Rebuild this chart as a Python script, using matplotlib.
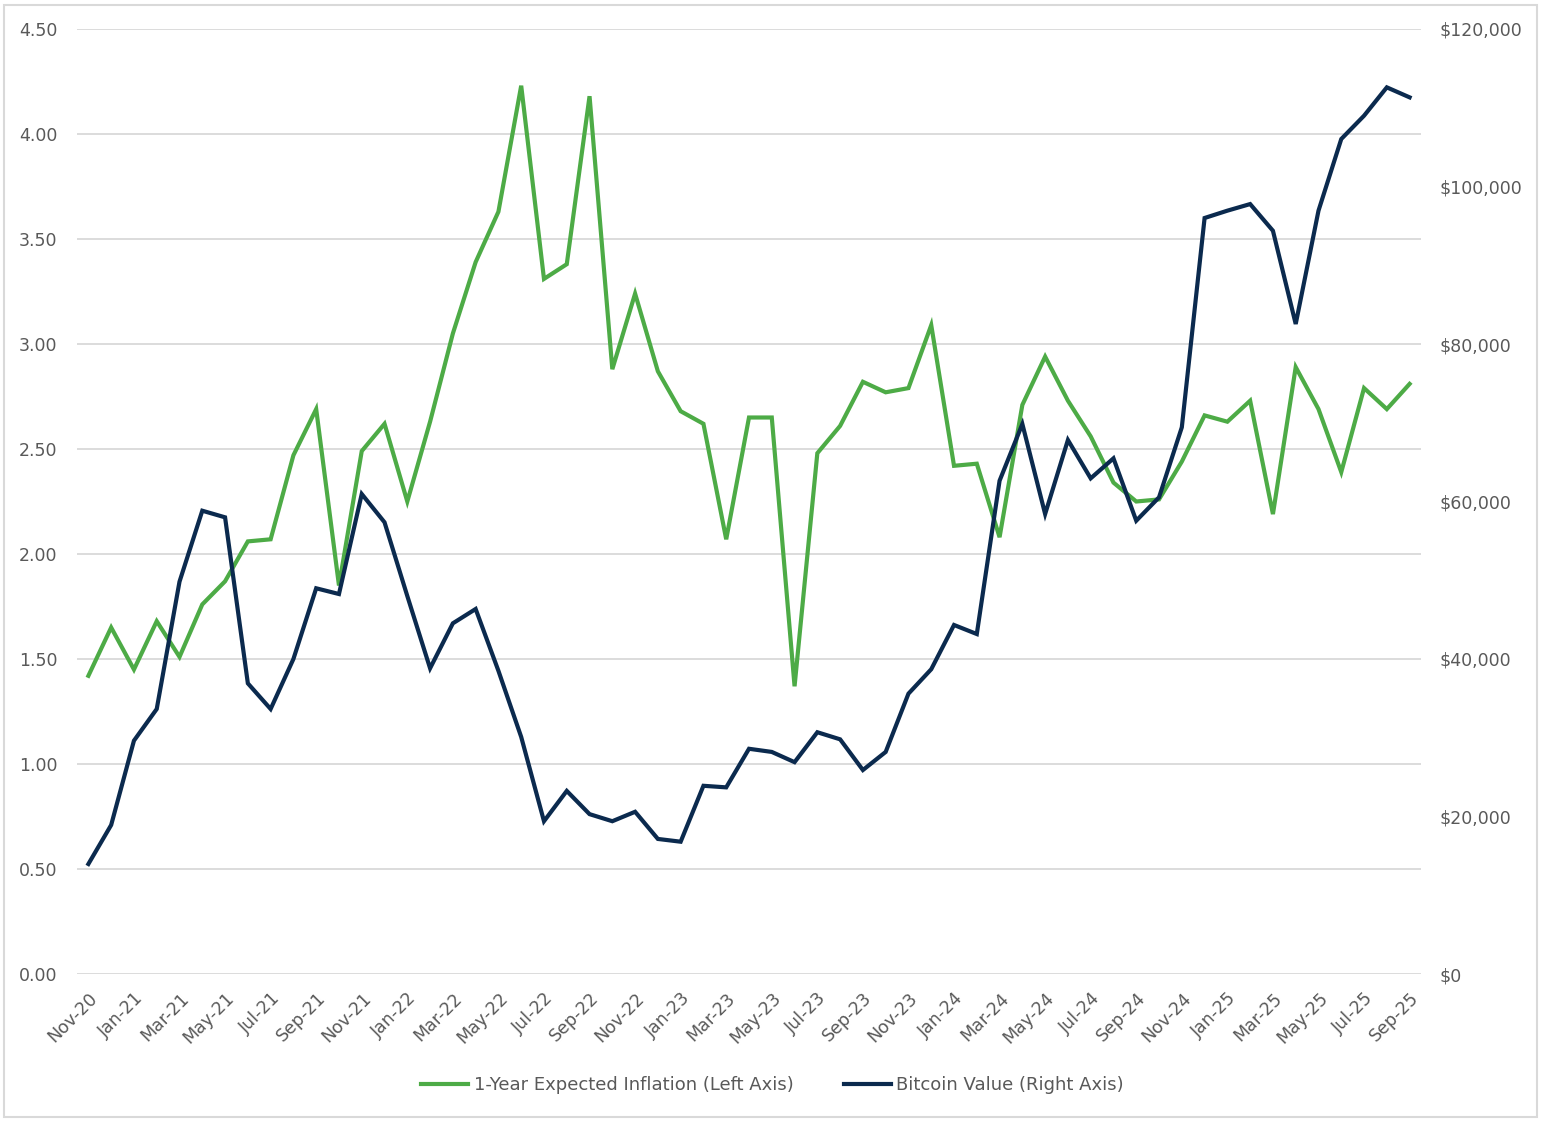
import matplotlib
matplotlib.use("Agg")
import matplotlib.pyplot as plt
from matplotlib.ticker import FuncFormatter, MultipleLocator
from matplotlib.patches import Rectangle

months = ["Nov-20", "Dec-20",
          "Jan-21", "Feb-21", "Mar-21", "Apr-21", "May-21", "Jun-21",
          "Jul-21", "Aug-21", "Sep-21", "Oct-21", "Nov-21", "Dec-21",
          "Jan-22", "Feb-22", "Mar-22", "Apr-22", "May-22", "Jun-22",
          "Jul-22", "Aug-22", "Sep-22", "Oct-22", "Nov-22", "Dec-22",
          "Jan-23", "Feb-23", "Mar-23", "Apr-23", "May-23", "Jun-23",
          "Jul-23", "Aug-23", "Sep-23", "Oct-23", "Nov-23", "Dec-23",
          "Jan-24", "Feb-24", "Mar-24", "Apr-24", "May-24", "Jun-24",
          "Jul-24", "Aug-24", "Sep-24", "Oct-24", "Nov-24", "Dec-24",
          "Jan-25", "Feb-25", "Mar-25", "Apr-25", "May-25", "Jun-25",
          "Jul-25", "Aug-25", "Sep-25"]

inflation = [1.42, 1.65,
             1.45, 1.68, 1.51, 1.76, 1.87, 2.06,
             2.07, 2.47, 2.69, 1.85, 2.49, 2.62,
             2.25, 2.63, 3.05, 3.39, 3.63, 4.23,
             3.31, 3.38, 4.18, 2.88, 3.24, 2.87,
             2.68, 2.62, 2.07, 2.65, 2.65, 1.37,
             2.48, 2.61, 2.82, 2.77, 2.79, 3.09,
             2.42, 2.43, 2.08, 2.71, 2.94, 2.73,
             2.56, 2.34, 2.25, 2.26, 2.44, 2.66,
             2.63, 2.73, 2.19, 2.89, 2.69, 2.39,
             2.79, 2.69, 2.81]

bitcoin = [13970, 18920,
           29630, 33650, 49820, 58830, 57990, 36910,
           33650, 40000, 48980, 48250, 60950, 57360,
           48000, 38820, 44530, 46350, 38500, 30100,
           19400, 23250, 20300, 19400, 20600, 17150,
           16800, 23900, 23700, 28600, 28200, 26900,
           30700, 29800, 25900, 28200, 35600, 38700,
           44320, 43170, 62640, 69840, 58410, 67810,
           62940, 65480, 57560, 60530, 69420, 96000,
           96930, 97770, 94380, 82540, 96930, 106030,
           108990, 112590, 111320]

series_names = ["1-Year Expected Inflation (Left Axis)", "Bitcoin Value (Right Axis)"]

GREEN = "#4DAB46"
NAVY = "#0B2A4E"
GRID = "#D9D9D9"
TXT = "#595959"

plt.rcParams['font.family'] = ['DejaVu Sans']

W, H = 1545, 1126
fig = plt.figure(figsize=(W / 100, H / 100), dpi=100)
left, right, top, bottom = 77 / W, 1421 / W, 1 - 29 / H, 1 - 974 / H
ax = fig.add_axes([left, bottom, right - left, top - bottom])
ax2 = ax.twinx()

x = list(range(len(months)))
l1, = ax.plot(x, inflation, color=GREEN, lw=3.0, solid_joinstyle='miter', zorder=3)
l2, = ax2.plot(x, bitcoin, color=NAVY, lw=3.0, solid_joinstyle='miter', zorder=3)

ax.set_xlim(-0.5, len(months) - 0.5)
ax.set_ylim(0, 4.5)
ax2.set_ylim(0, 120000)
ax.yaxis.set_major_locator(MultipleLocator(0.5))
ax.yaxis.set_major_formatter(FuncFormatter(lambda v, p: f"{v:.2f}"))
ax2.yaxis.set_major_locator(MultipleLocator(20000))
ax2.yaxis.set_major_formatter(FuncFormatter(lambda v, p: f"${v:,.0f}"))

ax.set_xticks(x[::2])
ax.set_xticklabels(months[::2], rotation=45, ha='right', rotation_mode='anchor')

ax.grid(axis='y', color=GRID, lw=1.3)
ax.set_axisbelow(True)
for a in (ax, ax2):
    for s in a.spines.values():
        s.set_visible(False)
    a.tick_params(length=0, colors=TXT, labelsize=12.5)
ax.tick_params(axis='x', pad=11)
ax.tick_params(axis='y', pad=14)
ax2.tick_params(axis='y', pad=13.5)

fig.legend([l1, l2], series_names, loc='center', bbox_to_anchor=(0.5, 1 - 1085 / H),
           ncol=2, frameon=False, fontsize=13, labelcolor=TXT,
           handlelength=2.6, handletextpad=0.3, columnspacing=2.8)

fig.patches.append(Rectangle((4 / W, 1 - 1117 / H), 1533 / W, 1112 / H,
                             transform=fig.transFigure, fill=False,
                             edgecolor=GRID, lw=1.5))

fig.savefig("out.png", dpi=100, facecolor='white')
